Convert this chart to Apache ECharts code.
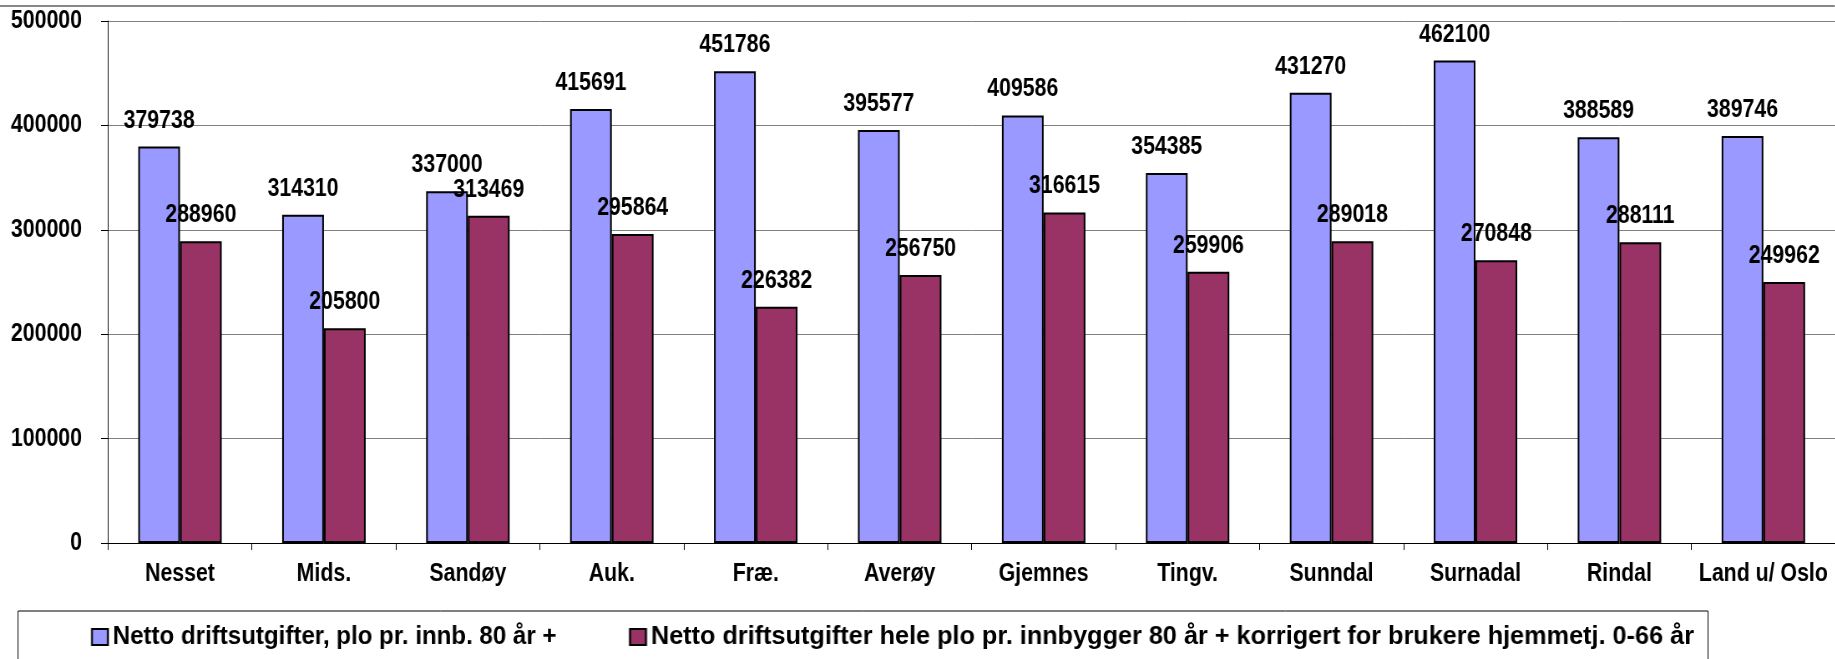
<!DOCTYPE html>
<html>
<head>
<meta charset="utf-8">
<script src="https://cdn.jsdelivr.net/npm/echarts@6/dist/echarts.min.js"></script>
<style>
  html, body { margin: 0; padding: 0; background: #fff; overflow: hidden; }
  #wrap { position: relative; width: 1835px; height: 659px; overflow: hidden; }
  /* Arial Narrow is not installed: draw wider and squeeze horizontally */
  #chart, #legend1, #legend2 { position: absolute; left: 0; top: 0; height: 659px; transform-origin: 0 0; }
</style>
</head>
<body>
<div id="wrap"><div id="chart"></div><div id="legend1"></div><div id="legend2"></div></div>
<script>
// kommuner
const categories = ['Nesset', 'Mids.', 'Sandøy', 'Auk.', 'Fræ.', 'Averøy', 'Gjemnes', 'Tingv.', 'Sunndal', 'Surnadal', 'Rindal', 'Land u/ Oslo']

// netto driftsutgifter plo pr. innb. 80 år +
const nettoPlo = [379738, 314310, 337000, 415691, 451786, 395577, 409586, 354385, 431270, 462100, 388589, 389746]
// korrigert for brukere hjemmetj. 0-66 år
const nettoKorrigert = [288960, 205800, 313469, 295864, 226382, 256750, 316615, 259906, 289018, 270848, 288111, 249962]

const seriesNames = [
  'Netto driftsutgifter, plo pr. innb. 80 år +',
  'Netto driftsutgifter hele plo pr. innbygger 80 år + korrigert for brukere hjemmetj. 0-66 år'
]
const colors = ['#9999FF', '#993366']

const yTicks = { min: 0, max: 500000, interval: 100000 }

const txt = { fontFamily: "'Liberation Sans', Arial, sans-serif", fontWeight: 'bold', fontSize: 25.5, color: '#000' }

// set up a squeezed canvas, returns a px->unscaled helper
const squeeze = (id, sx) => {
  const el = document.getElementById(id)
  el.style.width = (1835 / sx) + 'px'
  el.style.transform = 'scaleX(' + sx + ')'
  return { el, px: v => v / sx, W: 1835 / sx }
}

const barSeries = (i, data) => ({
  name: seriesNames[i],
  type: 'bar',
  data,
  barGap: '0%',
  barCategoryGap: '42%',
  itemStyle: { color: colors[i], borderColor: '#000', borderWidth: 2 },
  label: { show: true, position: 'top', distance: 13, ...txt }
})

// main chart
const main = squeeze('chart', 0.835)
const chart = echarts.init(main.el)
const px = main.px

chart.setOption({
  animation: false,
  grid: { left: px(108), right: px(-1), top: 21, bottom: 116 },
  graphic: [
    {
      type: 'line',
      shape: { x1: 0, y1: 6, x2: main.W, y2: 6 },
      style: { stroke: '#888', lineWidth: 2 }
    },
    {
      // legend frame
      type: 'rect',
      shape: { x: px(18), y: 611, width: px(1690), height: 100 },
      style: { fill: null, stroke: '#000', lineWidth: 1 }
    }
  ],
  xAxis: {
    type: 'category',
    data: categories,
    axisLine: { lineStyle: { color: '#000', width: 1 } },
    axisTick: { show: true, length: 7, lineStyle: { color: '#000' } },
    axisLabel: { interval: 0, margin: 18, ...txt }
  },
  yAxis: {
    type: 'value',
    ...yTicks,
    axisLine: { show: true, lineStyle: { color: '#000', width: 1 } },
    axisTick: { show: true, length: px(7), lineStyle: { color: '#000' } },
    axisLabel: { margin: px(26), formatter: v => String(v), ...txt },
    splitLine: { lineStyle: { color: '#808080', width: 1 } }
  },
  series: [barSeries(0, nettoPlo), barSeries(1, nettoKorrigert)]
})

// legend entries: each is condensed a bit differently in the original
const makeLegend = (id, sx, left, idx) => {
  const c = squeeze(id, sx)
  echarts.init(c.el).setOption({
    animation: false,
    grid: { left: 0, top: 2000, width: 10, height: 10 },
    xAxis: { type: 'category', data: categories, show: false },
    yAxis: { type: 'value', show: false },
    legend: {
      left: c.px(left),
      top: 624,
      padding: 0,
      itemWidth: c.px(16),
      itemHeight: 16,
      icon: 'rect',
      textStyle: txt,
      data: [seriesNames[idx]]
    },
    series: [barSeries(0, nettoPlo), barSeries(1, nettoKorrigert)]
  })
}

makeLegend('legend1', 0.945, 91, 0)
makeLegend('legend2', 0.99, 629, 1)
</script>
</body>
</html>
